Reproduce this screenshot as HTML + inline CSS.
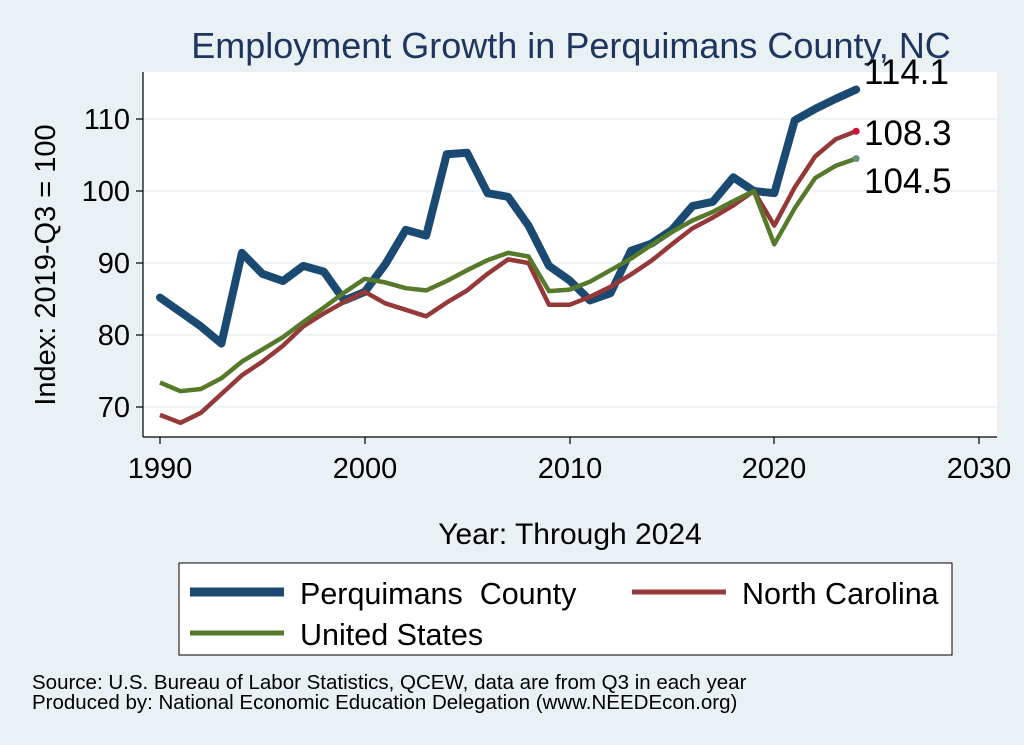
<!DOCTYPE html>
<html><head><meta charset="utf-8"><style>
body{margin:0;background:#eaf1f4;}
svg{display:block;font-family:"Liberation Sans",sans-serif;}
</style></head><body>
<svg id="s" width="1024" height="745" viewBox="0 0 1024 745">
<rect width="1024" height="745" fill="#eaf1f4"/>
<rect x="143" y="72" width="854" height="365" fill="#fff"/>
<g stroke="#eaf1f4" stroke-width="1.5">
<line x1="143" x2="997" y1="119" y2="119"/><line x1="143" x2="997" y1="191" y2="191"/>
<line x1="143" x2="997" y1="263" y2="263"/><line x1="143" x2="997" y1="335" y2="335"/>
<line x1="143" x2="997" y1="407" y2="407"/>
</g>
<line x1="143" y1="72" x2="143" y2="437" stroke="#000" stroke-width="1.2"/>
<line x1="143" y1="437" x2="997" y2="437" stroke="#000" stroke-width="1.2"/>
<g stroke="#000" stroke-width="1.2">
<line x1="136" x2="143" y1="119" y2="119"/><line x1="136" x2="143" y1="191" y2="191"/>
<line x1="136" x2="143" y1="263" y2="263"/><line x1="136" x2="143" y1="335" y2="335"/>
<line x1="136" x2="143" y1="407" y2="407"/>
<line x1="160" x2="160" y1="437" y2="444"/><line x1="365" x2="365" y1="437" y2="444"/>
<line x1="570" x2="570" y1="437" y2="444"/><line x1="774" x2="774" y1="437" y2="444"/>
<line x1="979" x2="979" y1="437" y2="444"/>
</g>
<g font-size="29" text-anchor="end">
<text x="130" y="129">110</text><text x="130" y="201">100</text><text x="130" y="273">90</text>
<text x="130" y="345">80</text><text x="130" y="417">70</text>
</g>
<g font-size="29" text-anchor="middle">
<text x="160" y="478">1990</text><text x="365" y="478">2000</text><text x="570" y="478">2010</text>
<text x="774" y="478">2020</text><text x="979" y="478">2030</text>
<text x="570" y="544" font-size="30">Year: Through 2024</text>
</g>
<text transform="translate(55,265) rotate(-90)" font-size="29" text-anchor="middle">Index: 2019-Q3 = 100</text>
<text x="571" y="58" font-size="36" fill="#1e3560" text-anchor="middle">Employment Growth in Perquimans County, NC</text>
<g id="lines"></g>
<g font-size="35">
<text x="864" y="84">114.1</text><text x="864" y="145">108.3</text><text x="864" y="193">104.5</text>
</g>
<rect x="179" y="563" width="773" height="92" fill="#fff" stroke="#000" stroke-width="1"/>
<line x1="190" x2="284" y1="592" y2="592" stroke="#1a4a72" stroke-width="9"/>
<line x1="632" x2="726" y1="592" y2="592" stroke="#943838" stroke-width="5"/>
<line x1="190" x2="284" y1="633" y2="633" stroke="#577a2a" stroke-width="5"/>
<g font-size="30.5">
<text x="300" y="604" xml:space="preserve">Perquimans  County</text><text x="742" y="604">North Carolina</text>
<text x="300" y="645">United States</text>
</g>
<g font-size="20.5"><text x="32" y="689">Source: U.S. Bureau of Labor Statistics, QCEW, data are from Q3 in each year</text>
<text x="32" y="709">Produced by: National Economic Education Delegation (www.NEEDEcon.org)</text></g>
</svg>
<script>
var P=[85.2,83.2,81.2,78.8,91.4,88.5,87.5,89.6,88.8,84.8,86.0,89.8,94.6,93.8,105.1,105.3,99.7,99.2,95.2,89.6,87.6,84.8,85.8,91.7,92.7,94.6,97.9,98.5,101.9,100,99.7,109.8,111.4,112.8,114.1];
var N=[68.9,67.8,69.2,71.8,74.4,76.3,78.5,81.2,83.0,84.6,86.0,84.4,83.5,82.6,84.5,86.2,88.5,90.5,90.0,84.2,84.2,85.3,86.7,88.4,90.3,92.6,94.8,96.3,98.0,100,95.2,100.5,104.8,107.2,108.3];
var U=[73.4,72.2,72.5,74.0,76.3,78.0,79.7,81.8,83.8,85.9,87.8,87.3,86.5,86.2,87.5,89.0,90.4,91.4,90.9,86.1,86.3,87.4,89.0,90.6,92.5,94.3,95.9,97.1,98.6,100,92.6,97.6,101.8,103.5,104.5];
function pts(a){return a.map(function(v,i){return (160+i*20.475).toFixed(1)+','+(119+(110-v)*7.2).toFixed(1)}).join(' ');}
var g=document.getElementById('lines'),h='';
h+='<polyline points="'+pts(P)+'" fill="none" stroke="#1a4a72" stroke-width="8" stroke-linejoin="round" stroke-linecap="round"/>';
h+='<polyline points="'+pts(N)+'" fill="none" stroke="#943838" stroke-width="4.5" stroke-linejoin="round"/>';
h+='<polyline points="'+pts(U)+'" fill="none" stroke="#577a2a" stroke-width="4.5" stroke-linejoin="round"/>';
var x=160+34*20.475;
h+='<circle cx="'+x+'" cy="'+(119+(110-108.3)*7.2)+'" r="3.5" fill="#d0103a"/>';
h+='<circle cx="'+x+'" cy="'+(119+(110-104.5)*7.2)+'" r="3.5" fill="#6a9080"/>';
g.innerHTML=h;
</script>
</body></html>
